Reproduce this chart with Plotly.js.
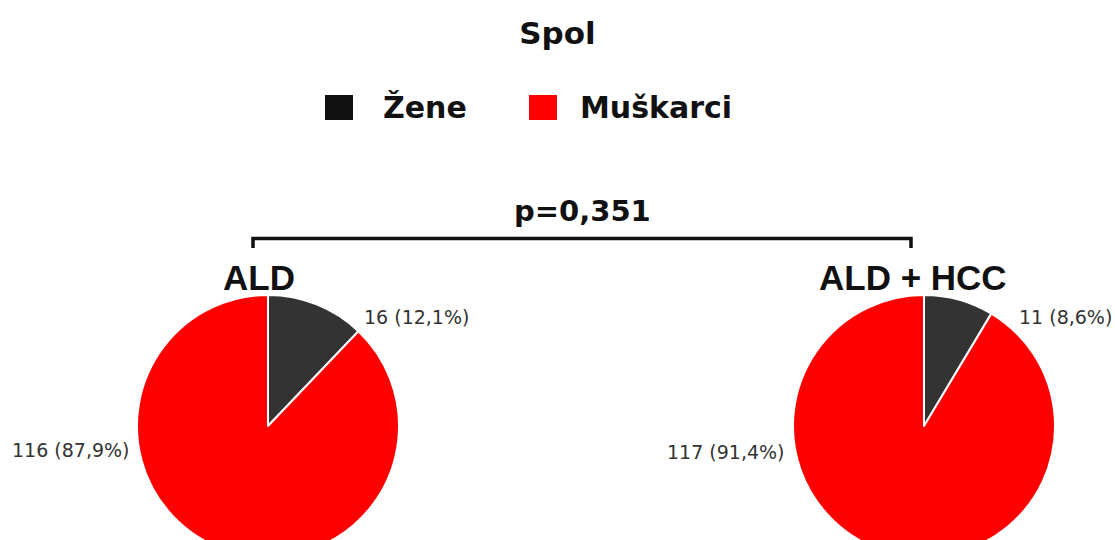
<!DOCTYPE html>
<html>
<head>
<meta charset="utf-8">
<script src="https://cdn.plot.ly/plotly-3.0.1.min.js"></script>
<style>
  html, body { margin: 0; padding: 0; background: #ffffff; overflow: hidden; }
  #chart { width: 1115px; height: 600px; }
</style>
</head>
<body>
<div id="chart"></div>
<script>
// ---- data ----
const chartTitle = 'Spol';
const categories = ['Žene', 'Muškarci'];
const groups = ['ALD', 'ALD + HCC'];
const aldValues = [16, 116];
const aldHccValues = [11, 117];
const pValueText = 'p=0,351';

// ---- styles ----
const W = 1115, H = 600;
const sliceColors = ['#333333', '#ff0000'];
const legendColors = ['#111111', '#ff0000'];
const px = v => v / W;
const py = v => 1 - v / H;

function fmtLabel(v, total) {
  const pct = (v / total * 100).toFixed(1).replace('.', ',');
  return v + ' (' + pct + '%)';
}

const R = 131, CY = 426;
const centers = [268, 924];
const seriesList = [aldValues, aldHccValues];

const traces = seriesList.map((vals, i) => ({
  type: 'pie',
  values: vals,
  labels: categories,
  sort: false,
  direction: 'clockwise',
  rotation: 0,
  textinfo: 'none',
  hoverinfo: 'none',
  showlegend: false,
  marker: { colors: sliceColors, line: { color: '#ffffff', width: 2 } },
  domain: {
    x: [px(centers[i] - R), px(centers[i] + R)],
    y: [1 - (CY + R) / H, 1 - (CY - R) / H]
  }
}));

const labelFont = { family: 'DejaVu Sans', size: 19, color: '#333333' };
const annotations = [];

// slice labels
const labelPos = [
  [{ x: 362, y: 317, anchor: 'left' }, { x: 132, y: 450, anchor: 'right' }],
  [{ x: 1017, y: 317, anchor: 'left' }, { x: 787, y: 452, anchor: 'right' }]
];
seriesList.forEach((vals, i) => {
  const total = vals.reduce((a, b) => a + b, 0);
  vals.forEach((v, j) => {
    const p = labelPos[i][j];
    annotations.push({
      xref: 'paper', yref: 'paper', x: px(p.x), y: py(p.y),
      xanchor: p.anchor, yanchor: 'middle', showarrow: false,
      text: fmtLabel(v, total), font: labelFont
    });
  });
});

// group labels
groups.forEach((g, i) => {
  annotations.push({
    xref: 'paper', yref: 'paper', x: px([259, 913][i]), y: py(277),
    xanchor: 'center', yanchor: 'middle', showarrow: false,
    text: '<b>' + g + '</b>',
    font: { family: 'Liberation Sans', size: 35, color: '#111111' }
  });
});

// p-value
annotations.push({
  xref: 'paper', yref: 'paper', x: px(582), y: py(211),
  xanchor: 'center', yanchor: 'middle', showarrow: false,
  text: '<b>' + pValueText + '</b>',
  font: { family: 'DejaVu Sans', size: 29, color: '#111111' }
});

// legend texts
const legendTextX = [381, 578];
categories.forEach((c, i) => {
  annotations.push({
    xref: 'paper', yref: 'paper', x: px(legendTextX[i]), y: py(107),
    xanchor: 'left', yanchor: 'middle', showarrow: false,
    text: '<b>' + c + '</b>',
    font: { family: 'DejaVu Sans', size: 30, color: '#111111' }
  });
});

// shapes: legend squares + bracket
const legendSqX = [325, 529];
const shapes = legendSqX.map((x0, i) => ({
  type: 'rect', xref: 'paper', yref: 'paper',
  x0: px(x0), x1: px(x0 + 28), y0: py(120), y1: py(95),
  fillcolor: legendColors[i], line: { width: 0 }
}));
shapes.push({
  type: 'path', xref: 'paper', yref: 'paper',
  path: 'M ' + px(253) + ' ' + py(248) + ' L ' + px(253) + ' ' + py(238.5) +
        ' L ' + px(911) + ' ' + py(238.5) + ' L ' + px(911) + ' ' + py(248),
  line: { color: '#111111', width: 3.5 }
});

const layout = {
  width: W, height: H,
  margin: { l: 0, r: 0, t: 0, b: 0 },
  paper_bgcolor: '#ffffff',
  title: {
    text: '<b>' + chartTitle + '</b>',
    x: 0.5, xanchor: 'center', y: py(33), yanchor: 'middle', yref: 'paper',
    font: { family: 'DejaVu Sans', size: 31, color: '#111111' }
  },
  annotations: annotations,
  shapes: shapes
};

Plotly.newPlot('chart', traces, layout, { displayModeBar: false, staticPlot: true });
</script>
</body>
</html>
